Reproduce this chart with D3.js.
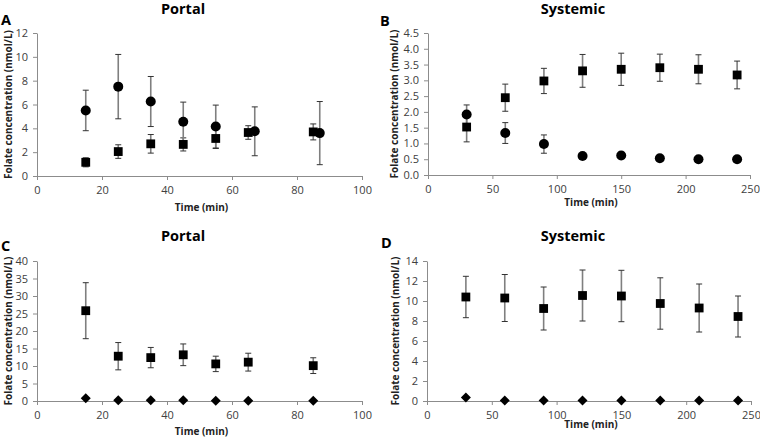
<!DOCTYPE html>
<html><head><meta charset="utf-8">
<script src="https://cdn.jsdelivr.net/npm/d3@7"></script>
<style>body{margin:0;background:#fff}svg{display:block}</style>
</head><body>
<svg id="c" width="760" height="439"></svg>
<script>
// ---- data ----
const portalTime = [15, 25, 35, 45, 55, 65, 85];
const portalTimeCircle = [15, 25, 35, 45, 55, 67, 87];
const systemicTime = [30, 60, 90, 120, 150, 180, 210, 240];

const aCircleMean = [5.5, 7.5, 6.25, 4.55, 4.15, 3.75, 3.6];
const aCircleErr  = [1.7, 2.7, 2.1, 1.65, 1.8, 2.05, 2.65];
const aSquareMean = [1.15, 2.05, 2.7, 2.65, 3.15, 3.65, 3.7];
const aSquareErr  = [0.38, 0.57, 0.78, 0.55, 0.84, 0.57, 0.67];

const bSquareMean = [1.52, 2.45, 2.98, 3.3, 3.35, 3.4, 3.35, 3.17];
const bSquareErr  = [0.47, 0.43, 0.4, 0.52, 0.51, 0.43, 0.46, 0.44];
const bCircleMean = [1.92, 1.33, 0.98, 0.6, 0.62, 0.53, 0.5, 0.5];
const bCircleErr  = [0.3, 0.33, 0.29, 0.06, 0.1, 0.05, 0.04, 0.04];

const cSquareMean = [25.8, 12.8, 12.4, 13.2, 10.6, 11.1, 10.1];
const cSquareErr  = [8.0, 3.9, 2.9, 3.1, 2.2, 2.55, 2.25];
const cDiamondMean = [0.8, 0.2, 0.2, 0.2, 0.1, 0.1, 0.1];

const dSquareMean = [10.4, 10.3, 9.25, 10.55, 10.5, 9.75, 9.3, 8.45];
const dSquareErr  = [2.07, 2.35, 2.15, 2.55, 2.57, 2.57, 2.4, 2.05];
const dDiamondMean = [0.35, 0.05, 0.05, 0.05, 0.05, 0.05, 0.05, 0.05];

const ticksA = [0, 2, 4, 6, 8, 10, 12];
const ticksB = [0, 0.5, 1, 1.5, 2, 2.5, 3, 3.5, 4, 4.5];
const ticksC = [0, 5, 10, 15, 20, 25, 30, 35, 40];
const ticksD = [0, 2, 4, 6, 8, 10, 12, 14];
const ticksPortalX = [0, 20, 40, 60, 80, 100];
const ticksSystemicX = [0, 50, 100, 150, 200, 250];

const svg = d3.select("#c");
const FONT = "'Open Sans', 'Liberation Sans', sans-serif";

function panel(o) {
  const g = svg.append("g");
  const x = d3.scaleLinear().domain(o.xDomain).range(o.xRange);
  const y = d3.scaleLinear().domain(o.yDomain).range(o.yRange);

  const xa = g.append("g").attr("transform", `translate(0,${o.yRange[0]})`)
    .call(d3.axisBottom(x).tickValues(o.xTicks).tickSize(4).tickSizeOuter(0).tickPadding(6));
  const ya = g.append("g").attr("transform", `translate(${o.xRange[0]},0)`)
    .call(d3.axisLeft(y).tickValues(o.yTicks).tickSize(4).tickSizeOuter(0).tickPadding(5)
      .tickFormat(o.yFmt || d3.format("d")));
  [xa, ya].forEach(a => {
    a.select(".domain").attr("stroke", "#8c8c8c").attr("stroke-width", 1);
    a.selectAll(".tick line").attr("stroke", "#8c8c8c");
    a.selectAll("text").attr("fill", "#404040").style("font-family", FONT).style("font-size", "11px");
  });

  // titles
  g.append("text").attr("x", o.titleX).attr("y", o.titleY).attr("text-anchor", "middle")
    .style("font-family", FONT).style("font-weight", "bold").style("font-size", "14.5px").text(o.title);
  g.append("text").attr("x", o.letterX).attr("y", o.letterY)
    .style("font-family", FONT).style("font-weight", "bold").style("font-size", "14.5px").text(o.letter);
  g.append("text").attr("x", (o.xRange[0] + o.xRange[1]) / 2 + 2).attr("y", o.xTitleY).attr("text-anchor", "middle")
    .style("font-family", FONT).style("font-weight", "bold").style("font-size", "10px").attr("fill", "#222").text("Time (min)");
  g.append("text").attr("transform", `translate(${o.yTitleX},${(o.yRange[0] + o.yRange[1]) / 2}) rotate(-90)`)
    .attr("text-anchor", "middle").attr("dy", "0.35em")
    .style("font-family", FONT).style("font-weight", "bold").style("font-size", "10px").attr("fill", "#222")
    .text("Folate concentration (nmol/L)");

  o.series.forEach(s => {
    const data = s.t.map((t, i) => ({ t, m: s.m[i], e: s.e ? s.e[i] : 0 }));
    const eg = g.append("g");
    data.filter(d => d.e > 0).forEach(d => {
      const cx = x(d.t);
      eg.append("line").attr("x1", cx).attr("x2", cx).attr("y1", y(d.m - d.e)).attr("y2", y(d.m + d.e))
        .attr("stroke", "#7f7f7f").attr("stroke-width", 1.6);
      [d.m - d.e, d.m + d.e].forEach(v => {
        eg.append("line").attr("x1", cx - 3).attr("x2", cx + 3).attr("y1", y(v)).attr("y2", y(v))
          .attr("stroke", "#333").attr("stroke-width", 1);
      });
    });
  });
  o.series.forEach(s => {
    const data = s.t.map((t, i) => ({ t, m: s.m[i] }));
    const mg = g.append("g");
    data.forEach(d => {
      const cx = x(d.t), cy = y(d.m);
      if (s.shape === "circle") mg.append("circle").attr("cx", cx).attr("cy", cy).attr("r", 5).attr("fill", "#000");
      else if (s.shape === "square") mg.append("rect").attr("x", cx - 4.4).attr("y", cy - 4.4).attr("width", 8.8).attr("height", 8.8).attr("fill", "#000");
      else mg.append("path").attr("d", `M${cx},${cy - 5}L${cx + 5},${cy}L${cx},${cy + 5}L${cx - 5},${cy}Z`).attr("fill", "#000");
    });
  });
}

panel({
  xDomain: [0, 100], xRange: [37, 362], yDomain: [0, 12], yRange: [176, 33],
  xTicks: ticksPortalX, yTicks: ticksA, title: "Portal", titleX: 183, titleY: 14,
  letter: "A", letterX: 1, letterY: 25, xTitleY: 211, yTitleX: 8,
  series: [
    { t: portalTime, m: aSquareMean, e: aSquareErr, shape: "square" },
    { t: portalTimeCircle, m: aCircleMean, e: aCircleErr, shape: "circle" }
  ]
});
panel({
  xDomain: [0, 250], xRange: [428, 750], yDomain: [0, 4.5], yRange: [175, 33],
  xTicks: ticksSystemicX, yTicks: ticksB, yFmt: d3.format(".1f"), title: "Systemic", titleX: 573, titleY: 14,
  letter: "B", letterX: 380, letterY: 26, xTitleY: 206, yTitleX: 394,
  series: [
    { t: systemicTime, m: bSquareMean, e: bSquareErr, shape: "square" },
    { t: systemicTime, m: bCircleMean, e: bCircleErr, shape: "circle" }
  ]
});
panel({
  xDomain: [0, 100], xRange: [37, 362], yDomain: [0, 40], yRange: [401, 261],
  xTicks: ticksPortalX, yTicks: ticksC, title: "Portal", titleX: 183, titleY: 241,
  letter: "C", letterX: 1, letterY: 251, xTitleY: 435, yTitleX: 8,
  series: [
    { t: portalTime, m: cSquareMean, e: cSquareErr, shape: "square" },
    { t: portalTime, m: cDiamondMean, shape: "diamond" }
  ]
});
panel({
  xDomain: [0, 250], xRange: [427, 751], yDomain: [0, 14], yRange: [401, 261],
  xTicks: ticksSystemicX, yTicks: ticksD, title: "Systemic", titleX: 573, titleY: 241,
  letter: "D", letterX: 381, letterY: 248, xTitleY: 428, yTitleX: 395,
  series: [
    { t: systemicTime, m: dSquareMean, e: dSquareErr, shape: "square" },
    { t: systemicTime, m: dDiamondMean, shape: "diamond" }
  ]
});
</script>
</body></html>
